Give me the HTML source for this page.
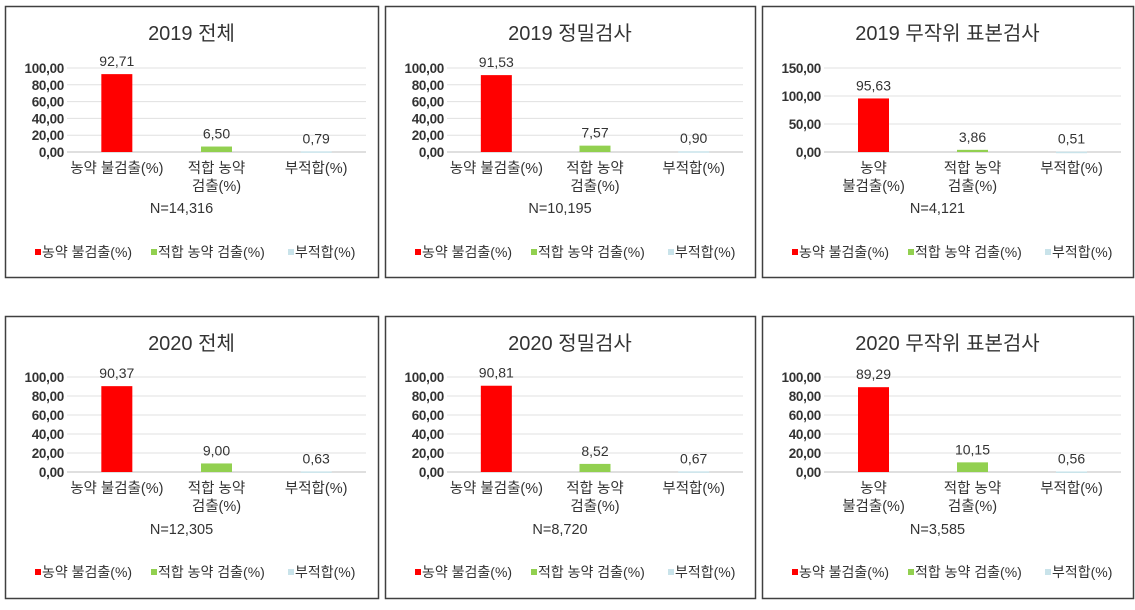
<!DOCTYPE html>
<html><head><meta charset="utf-8"><style>
body{margin:0;background:#fff;}
svg text{font-family:"Liberation Sans","Noto Sans CJK KR","NanumGothic",sans-serif;fill:#333;}
</style></head><body>
<svg id="c" width="1135" height="605" xmlns="http://www.w3.org/2000/svg"></svg>
<script>
const titles=["2019 전체","2019 정밀검사","2019 무작위 표본검사","2020 전체","2020 정밀검사","2020 무작위 표본검사"];
const nLabels=["N=14,316","N=10,195","N=4,121","N=12,305","N=8,720","N=3,585"];
const nonDetect=[92.71,91.53,95.63,90.37,90.81,89.29];
const compliant=[6.50,7.57,3.86,9.00,8.52,10.15];
const nonCompliant=[0.79,0.90,0.51,0.63,0.67,0.56];
const axisMax=[100,100,150,100,100,100];
const axisStep=[20,20,50,20,20,20];
const seriesNames=["농약 불검출(%)","적합 농약 검출(%)","부적합(%)"];
const colors=["#ff0000","#92d050","#c9e3ea"];
const NS="http://www.w3.org/2000/svg";
const svg=document.getElementById('c');
function el(tag,attrs,parent){const e=document.createElementNS(NS,tag);for(const k in attrs)e.setAttribute(k,attrs[k]);(parent||svg).appendChild(e);return e;}
function txt(s,attrs,parent){const t=el('text',attrs,parent);t.textContent=s;return t;}
const lefts=[5,385,762];
const widths=[373,370,371];
const rows=[{top:6,h:271,y0:152,y1:68,title:33,cat:173,n:213,leg:258},{top:316,h:282,y0:472,y1:377,title:343,cat:493,n:534,leg:578}];
for(let i=0;i<6;i++){
  const col=i%3,r=rows[Math.floor(i/3)],L=lefts[col],W=widths[col];
  const g=el('g',{});
  
  
  el('rect',{x:L+0.5,y:r.top+0.5,width:W,height:r.h,fill:'#fff',stroke:'#404040','stroke-width':1.5},g);
  const t=txt(titles[i],{x:L+W/2,y:r.title+7,'text-anchor':'middle','font-size':20},g);
  
  
  const px0=L+62,px1=L+W-12;
  const ys=v=>r.y0-(v/axisMax[i])*(r.y0-r.y1);
  for(let v=0;v<=axisMax[i]+1e-9;v+=axisStep[i]){
    const y=ys(v);
    el('line',{x1:px0,x2:px1,y1:y,y2:y,stroke:v==0?'#bfbfbf':'#e0e0e0','stroke-width':1},g);
    const tl=txt(v.toFixed(2).replace('.',','),{x:px0-3,y:y+5,'text-anchor':'end','font-size':13.5,'font-weight':'bold','letter-spacing':'-0.3'},g);
    
    
  }
  const cw=(px1-px0)/3;
  const vals=[nonDetect[i],compliant[i],nonCompliant[i]];
  const catLines=[col==2?["농약","불검출(%)"]:["농약 불검출(%)"],["적합 농약","검출(%)"],["부적합(%)"]];
  for(let k=0;k<3;k++){
    const cx=px0+cw*(k+0.5);
    const y=ys(vals[k]);
    const b=el('rect',{x:cx-15.5,y:y,width:31,height:Math.max(r.y0-y,1.5),fill:colors[k]},g);
    
    
    const dl=txt(vals[k].toFixed(2).replace('.',','),{x:cx,y:y-8,'text-anchor':'middle','font-size':14},g);
    
    
    catLines[k].forEach((s,j)=>{
      const cl=txt(s,{x:cx,y:r.cat+j*18,'text-anchor':'middle','font-size':14.5},g);
      
      
    });
  }
  const nl=txt(nLabels[i],{x:L+W/2-10,y:r.n,'text-anchor':'middle','font-size':14.5},g);
  
  
  const lx=[L+30,L+146,L+283];
  for(let k=0;k<3;k++){
    const lg=el('g',{},g);
    
    
    el('rect',{x:lx[k],y:r.leg-9,width:6,height:6,fill:colors[k]},lg);
    txt(seriesNames[k],{x:lx[k]+7,y:r.leg-1,'font-size':14},lg);
  }
}
</script>
</body></html>
